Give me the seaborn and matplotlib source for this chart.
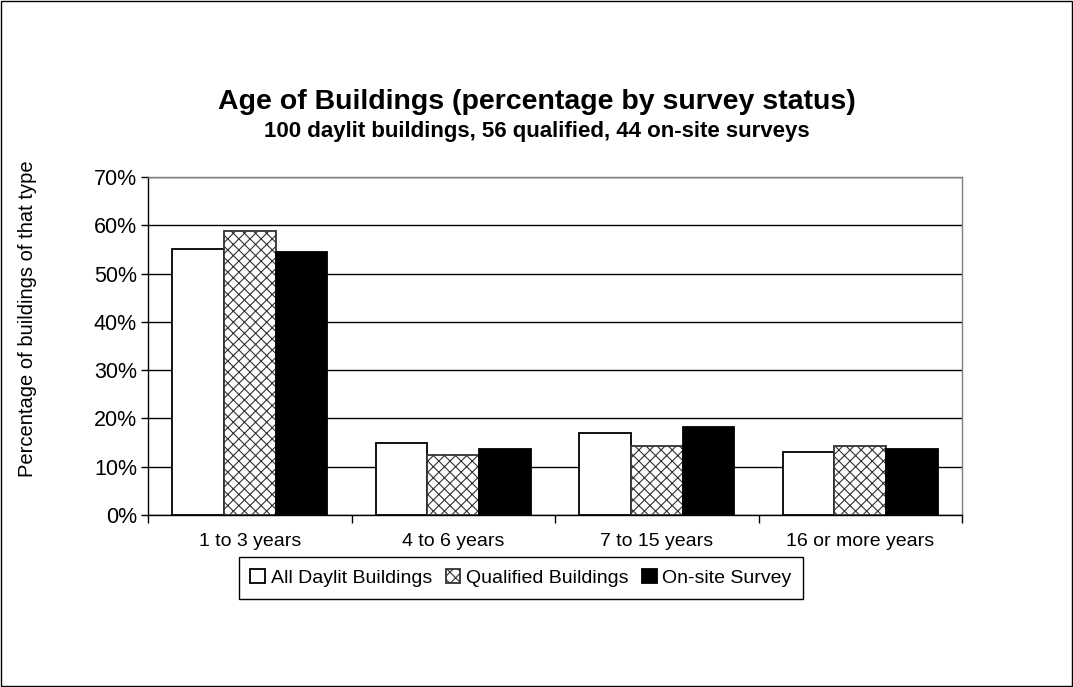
import pandas as pd
import matplotlib.pyplot as plt
import seaborn as sns
from matplotlib.patches import Rectangle
from matplotlib.ticker import FixedLocator

ages = ['1 to 3 years', '4 to 6 years', '7 to 15 years', '16 or more years']
statuses = ['All Daylit Buildings', 'Qualified Buildings', 'On-site Survey']
all_daylit = [55.0, 15.0, 17.0, 13.0]
qualified = [58.9, 12.5, 14.3, 14.3]
onsite = [54.5, 13.6, 18.2, 13.6]
yticks = [0, 10, 20, 30, 40, 50, 60, 70]

rows = []
for s, vals in zip(statuses, [all_daylit, qualified, onsite]):
    for a, v in zip(ages, vals):
        rows.append({'age': a, 'status': s, 'pct': v})
df = pd.DataFrame(rows)

sns.set_style('white')
plt.rcParams['font.family'] = ['Liberation Sans', 'DejaVu Sans']
plt.rcParams['hatch.linewidth'] = 0.8
plt.rcParams['text.color'] = 'black'
plt.rcParams['axes.labelcolor'] = 'black'
plt.rcParams['xtick.color'] = 'black'
plt.rcParams['ytick.color'] = 'black'

fig = plt.figure(figsize=(10.73, 6.87), dpi=100)
ax = fig.add_axes([148/1073, 1-515/687, 814/1073, 338/687])

sns.barplot(data=df, x='age', y='pct', hue='status', order=ages, hue_order=statuses,
            palette=['white', 'white', 'black'], saturation=1, width=0.76,
            edgecolor='black', linewidth=1.3, legend=False, ax=ax, zorder=3)

# cross-hatched fill for the qualified series
for p in ax.containers[1].patches:
    p.set_hatch('xxx')
    p.set_edgecolor('#333333')

ax.set_ylim(0, 70)
ax.set_xlim(-0.5, 3.5)
ax.set_yticks(yticks)
ax.set_yticklabels([f'{t}%' for t in yticks], fontsize=15.5)
ax.tick_params(axis='y', length=5, width=1, direction='out', color='black', pad=3, left=True)
ax.tick_params(axis='x', which='major', length=0, labelsize=14, pad=13)
ax.xaxis.set_minor_locator(FixedLocator([-0.5, 0.5, 1.5, 2.5, 3.5]))
ax.tick_params(axis='x', which='minor', length=6, width=1, direction='out', color='black', bottom=True)
ax.grid(axis='y', color='black', linewidth=1, zorder=0)
ax.set_axisbelow(True)
ax.set_xlabel('')
ax.set_ylabel('Percentage of buildings of that type', fontsize=14.5)
ax.yaxis.set_label_coords(-0.136, 0.58)

for side in ['top', 'right']:
    ax.spines[side].set_color('#808080')
    ax.spines[side].set_linewidth(1)
for side in ['left', 'bottom']:
    ax.spines[side].set_color('black')
    ax.spines[side].set_linewidth(1)

fig.text(0.5, 1-102/687, 'Age of Buildings (percentage by survey status)',
         ha='center', va='center', fontsize=20.5, fontweight='bold')
fig.text(0.5, 1-131/687, '100 daylit buildings, 56 qualified, 44 on-site surveys',
         ha='center', va='center', fontsize=16, fontweight='bold')

leg = fig.legend(ax.containers, statuses, loc='center', bbox_to_anchor=(521/1073, 1-578/687),
                 ncol=3, fontsize=14, frameon=True, fancybox=False, edgecolor='black',
                 handlelength=0.75, handleheight=0.75, handletextpad=0.3, columnspacing=0.7,
                 borderpad=0.6)
leg.get_frame().set_linewidth(1)
leg.get_frame().set_alpha(None)

fig.patches.append(Rectangle((0.001, 0.001), 0.998, 0.997, transform=fig.transFigure,
                             fill=False, edgecolor='black', linewidth=1))

fig.savefig('out.png', dpi=100)
